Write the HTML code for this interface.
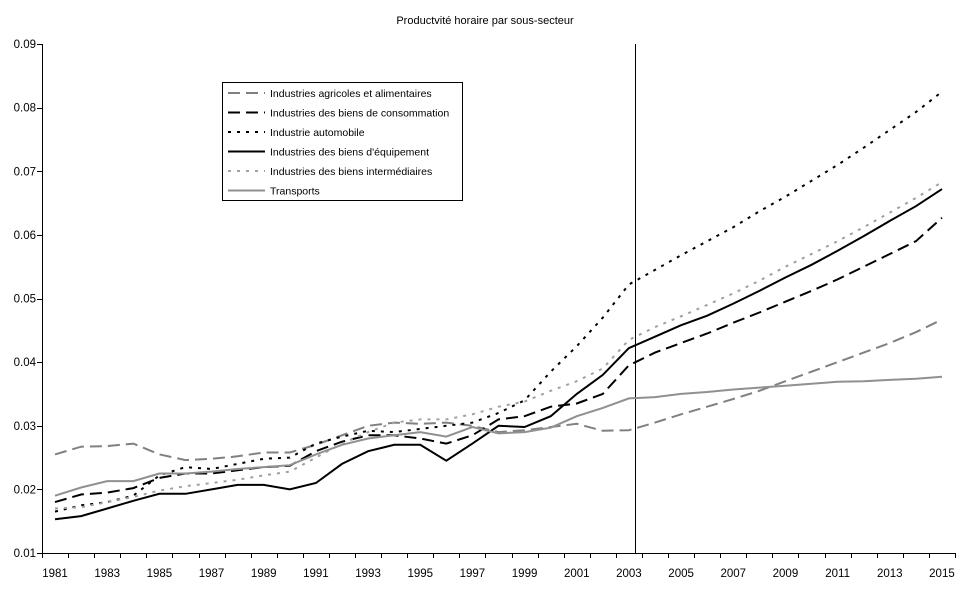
<!DOCTYPE html>
<html><head><meta charset="utf-8">
<style>
body{margin:0;background:#fff;font-family:"Liberation Sans",sans-serif;}
svg text{font-family:"Liberation Sans",sans-serif;font-size:11.5px;fill:#000;}
</style></head>
<body>
<svg id="chart" width="970" height="603" xmlns="http://www.w3.org/2000/svg">
<text x="485" y="24" text-anchor="middle" style="font-size:11px">Productvité horaire par sous-secteur</text>
<g id="axes"></g>
<g id="series"></g>
<g id="legend"></g>
</svg>
<script>
const years=[];for(let y=1981;y<=2015;y++)years.push(y);
const yTicks=[0.01,0.02,0.03,0.04,0.05,0.06,0.07,0.08,0.09];
const agri=[.0255,.0267,.0268,.0272,.0255,.0246,.0248,.0252,.0258,.0258,.0270,.0285,.0300,.0305,.0303,.0305,.0300,.0290,.0293,.0298,.0303,.0292,.0293,.0305,.0318,.0330,.0342,.0355,.0370,.0385,.0400,.0415,.0430,.0447,.0467];
const conso=[.0180,.0192,.0195,.0202,.0218,.0225,.0225,.0230,.0235,.0237,.0260,.0275,.0285,.0285,.0280,.0272,.0285,.0310,.0315,.0330,.0335,.0350,.0395,.0415,.0430,.0445,.0462,.0478,.0495,.0512,.0530,.0550,.0570,.0590,.0627];
const auto=[.0165,.0175,.0180,.0190,.0222,.0235,.0232,.0240,.0248,.0250,.0272,.0283,.0292,.0290,.0295,.0300,.0305,.0320,.0340,.0385,.0425,.0470,.0522,.0545,.0568,.0590,.0612,.0637,.0660,.0685,.0710,.0737,.0765,.0793,.0825];
const equip=[.0153,.0158,.0170,.0182,.0193,.0193,.0200,.0207,.0207,.0200,.0210,.0240,.0260,.0270,.0270,.0245,.0272,.0300,.0298,.0315,.0350,.0380,.0422,.0440,.0458,.0473,.0492,.0512,.0533,.0553,.0575,.0598,.0622,.0645,.0672];
const interm=[.0170,.0172,.0180,.0188,.0198,.0205,.0210,.0215,.0222,.0228,.0250,.0272,.0290,.0305,.0310,.0310,.0318,.0330,.0338,.0355,.0370,.0390,.0435,.0455,.0472,.0490,.0508,.0528,.0550,.0570,.0590,.0612,.0635,.0658,.0683];
const transp=[.0190,.0203,.0213,.0213,.0225,.0225,.0228,.0232,.0235,.0238,.0255,.0270,.0280,.0285,.0290,.0283,.0298,.0288,.0290,.0297,.0315,.0328,.0343,.0345,.0350,.0353,.0357,.0360,.0363,.0366,.0369,.0370,.0372,.0374,.0377];
const seriesNames=["Industries agricoles et alimentaires","Industries des biens de consommation","Industrie automobile","Industries des biens d'équipement","Industries des biens intermédiaires","Transports"];
const seriesData=[agri,conso,auto,equip,interm,transp];
const splitYear=2003;

const NS="http://www.w3.org/2000/svg";
const L=42,R=955,T=44,B=553;
const step=(R-L)/years.length;
function xs(i){return L+step*(i+0.5);}
function ys(v){return B-(v-0.01)/(0.08)*(B-T);}
function mk(tag,attrs,parent){const e=document.createElementNS(NS,tag);for(const k in attrs)e.setAttribute(k,attrs[k]);parent.appendChild(e);return e;}
const axes=document.getElementById('axes');
axes.setAttribute('shape-rendering','crispEdges');
let e=mk('line',{x1:L+0.5,y1:T,x2:L+0.5,y2:B,stroke:'#000'},axes);


e=mk('line',{x1:L,y1:B+0.5,x2:R,y2:B+0.5,stroke:'#000'},axes);


yTicks.forEach(v=>{
  const yy=Math.round(ys(v))+0.5;
  mk('line',{x1:L-5,y1:yy,x2:L,y2:yy,stroke:'#000'},axes);
  const t=mk('text',{x:L-6,y:ys(v)+4,'text-anchor':'end'},axes);t.textContent=v.toFixed(2);
  
  
});
years.forEach((y,i)=>{
  const xx=Math.round(L+step*i)+0.5;
  mk('line',{x1:xx,y1:B,x2:xx,y2:B+5,stroke:'#000'},axes);
  if(i%2===0){const t=mk('text',{x:xs(i),y:B+24,'text-anchor':'middle'},axes);t.textContent=y;
  
  }
});
mk('line',{x1:R+0.5,y1:B,x2:R+0.5,y2:B+5,stroke:'#000'},axes);
const si=years.indexOf(splitYear);
const dx=Math.round(xs(si)+6)+0.5;
e=mk('line',{x1:dx,y1:T,x2:dx,y2:B,stroke:'#000'},axes);


const styles=[
 {c:'#808080',d:'12,6',w:2},{c:'#000',d:'12,6',w:2},{c:'#000',d:'3,6',w:2},
 {c:'#000',d:'',w:2},{c:'#a0a0a0',d:'3,6',w:2},{c:'#909090',d:'',w:2}];
const sg=document.getElementById('series');
const keys=['agri','conso','auto','equip','interm','transports'];
seriesData.forEach((arr,k)=>{
  const p=arr.map((v,i)=>(i?'L':'M')+xs(i).toFixed(1)+','+ys(v).toFixed(1)).join('');
  const s=styles[k];
  const pe=mk('path',{d:p,fill:'none',stroke:s.c,'stroke-width':s.w,'stroke-dasharray':s.d},sg);
  
  
});
const lg=document.getElementById('legend');
mk('rect',{x:222.5,y:82.5,width:240,height:118,fill:'#fff',stroke:'#000','shape-rendering':'crispEdges'},lg);
seriesNames.forEach((n,k)=>{
  const y=93+k*19.5;const s=styles[k];
  const g=mk('g',{},lg);
  
  
  mk('line',{x1:228,y1:y,x2:265,y2:y,stroke:s.c,'stroke-width':2,'stroke-dasharray':s.d},g);
  const t=mk('text',{x:270,y:y+4,style:'font-size:10.5px'},g);t.textContent=n;
});
</script>
</body></html>
